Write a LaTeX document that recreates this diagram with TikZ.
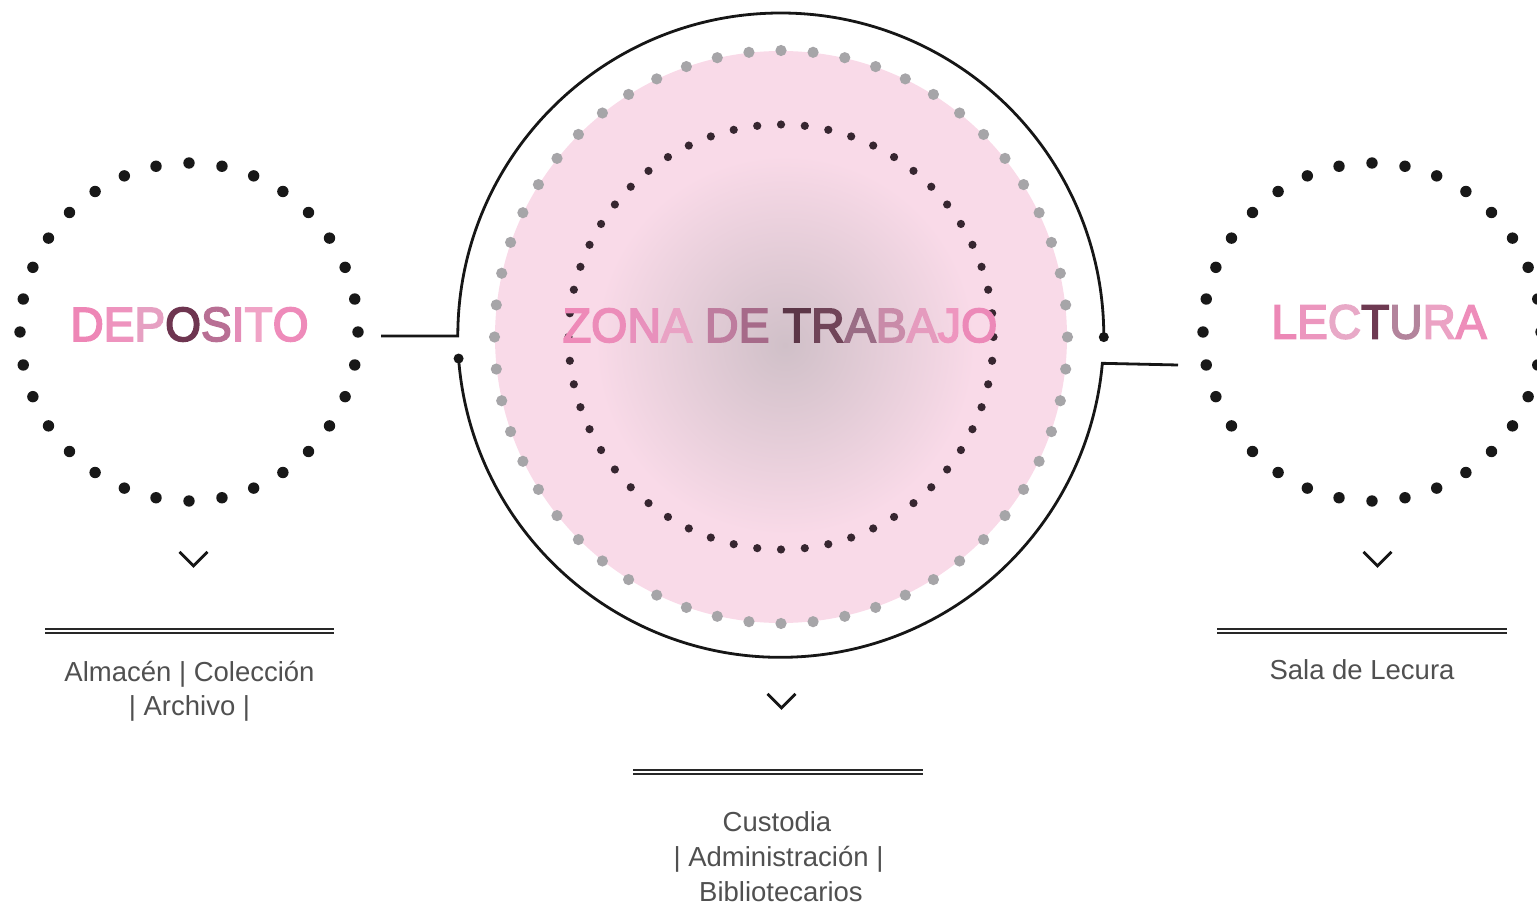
\documentclass[tikz,border=0pt]{standalone}
\usepackage{fontspec}
\setmainfont{Liberation Sans}
\newfontfamily\titleface[FakeBold=3.5]{Liberation Sans}
\definecolor{discpink}{RGB}{249,218,232}
\definecolor{hazegray}{RGB}{208,192,200}
\definecolor{graydot}{RGB}{166,165,168}
\definecolor{innerdot}{RGB}{55,38,48}
\definecolor{blackdot}{RGB}{24,24,24}
\definecolor{linecol}{RGB}{22,22,22}
\definecolor{subtext}{RGB}{80,80,80}
\definecolor{rulecol}{RGB}{40,40,40}
\newcommand\pk[2]{\textcolor[HTML]{#1}{#2}}
\newcommand\titlefont{\titleface\fontsize{48}{48}\selectfont}
\newcommand\subfont{\fontsize{27.5}{34}\selectfont}
\begin{document}
\begin{tikzpicture}[x=1pt,y=1pt,
  conn/.style={draw=linecol, line width=2.8},
  enddot/.style={fill=linecol},
  chev/.style={draw=linecol, line width=2.8, line join=miter},
  rule/.style={draw=rulecol, line width=2.0, double=white, double distance=1.4},
  title/.style={anchor=base, inner sep=0, font=\titlefont},
  sub/.style={anchor=base, inner sep=0, font=\subfont, text=subtext},
  ring/.style={circle, inner sep=0, draw=none}]
\useasboundingbox (0,0) rectangle (1537,-909);

% ---- ring nodes ----
\node[ring, minimum size=338] (depC) at (189,-332) {};
\node[ring, minimum size=646] (zonaC) at (781,-336) {};
\node[ring, minimum size=338] (lecC) at (1372,-332) {};

% ---- pink disc ----
\fill[discpink] (781,-337) circle (286);
\shade[inner color=hazegray, outer color=discpink] (785,-345) circle (190);

% ---- dotted rings ----
\foreach \i in {0,...,55}
  \fill[graydot] ([shift={(781,-337)}]90-\i*6.4285714:286.5) circle (5.6);
\foreach \i in {0,...,55}
  \fill[innerdot] ([shift={(781,-337)}]90-\i*6.4285714:212.5) circle (4.1);
\foreach \i in {0,...,31}
  \fill[blackdot] ([shift={(depC.center)}]90-\i*11.25:169) circle (5.7);
\foreach \i in {0,...,31}
  \fill[blackdot] ([shift={(lecC.center)}]90-\i*11.25:169) circle (5.7);

% ---- titles ----
\node[title] (depT) at (189.5,-341) {\scalebox{0.96}[1]{\pk{EE86B6}{D}\pk{EE93BE}{E}\pk{E6A0C2}{P}\pk{6E3550}{O}\pk{B86F94}{S}\pk{E48DB8}{I}\pk{F0A3C6}{T}\pk{EE8BBA}{O}}};
\node[title] (zonaT) at (780,-342) {\scalebox{0.97}[1]{\pk{EE8AB8}{Z}\pk{EC8CB9}{O}\pk{E890BC}{N}\pk{E9A2C4}{A} \pk{BE7C9E}{D}\pk{A66A89}{E} \pk{5C3647}{T}\pk{704458}{R}\pk{9A6C85}{A}\pk{C98BA9}{B}\pk{E59BBE}{A}\pk{EE96BF}{J}\pk{EC89B8}{O}}};
\node[title] (lecT) at (1379,-338.5) {\scalebox{0.96}[1]{\pk{EC88B6}{L}\pk{EC96BE}{E}\pk{E8A9C7}{C}\pk{6E3A52}{T}\pk{B3849C}{U}\pk{EBA2C4}{R}\pk{EE8DBA}{A}}};

% ---- connectors ----
\coordinate (depOut) at (381,-336);
\coordinate (lecIn) at (1178,-365);
\draw[conn] (depOut) -- (zonaC.180) arc[start angle=180, end angle=-0.2, radius=323] coordinate (zonaDotR);
\fill[enddot] (zonaDotR) circle (5);
\draw[conn] (zonaC.184.3) coordinate (zonaDotL) arc[start angle=184.3, end angle=354.85, radius=323] -- (lecIn);
\fill[enddot] (zonaDotL) circle (5);

% ---- chevrons ----
\coordinate (depV) at (193.5,-559);
\coordinate (zonaV) at (781.5,-701);
\coordinate (lecV) at (1377.5,-559);
\foreach \c in {depV,zonaV,lecV}
  \draw[chev] (\c) ++(-14,7.2) -- ++(14,-14) -- ++(14,14);

% ---- double rules ----
\draw[rule] (45,-630.8) -- (334,-630.8);
\draw[rule] (633,-772) -- (923,-772);
\draw[rule] (1217,-631) -- (1507,-631);

% ---- sub texts ----
\node[sub] (depS1) at (189.5,-681.5) {Almacén | Colección};
\node[sub] (depS2) at (189.5,-715.5) {| Archivo |};
\node[sub] (zonaS1) at (777,-831.5) {Custodia};
\node[sub] (zonaS2) at (778.5,-866.5) {| Administración |};
\node[sub] (zonaS3) at (781,-901.5) {Bibliotecarios};
\node[sub] (lecS1) at (1362,-679) {Sala de Lecura};
\end{tikzpicture}
\end{document}
